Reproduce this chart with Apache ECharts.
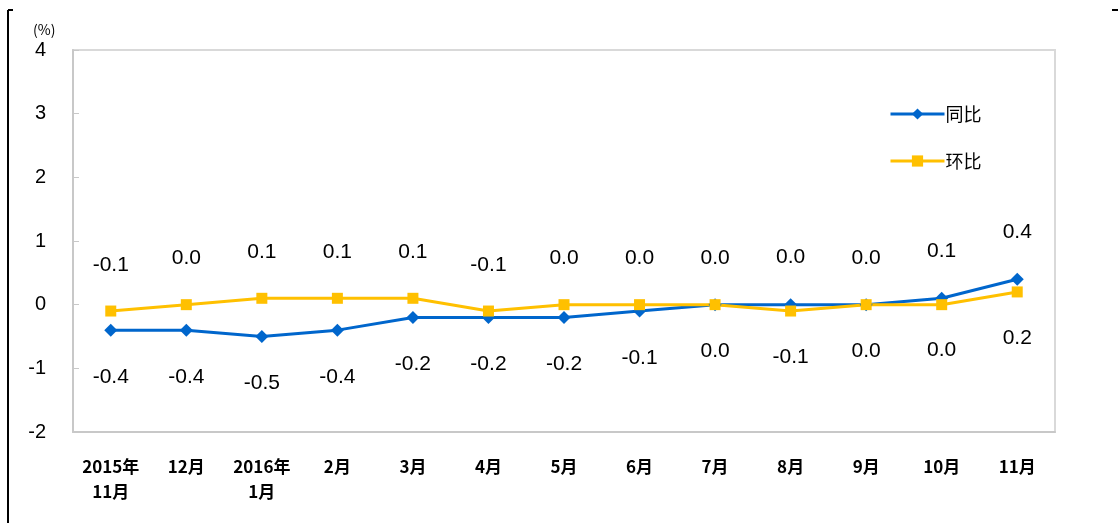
<!DOCTYPE html>
<html>
<head>
<meta charset="utf-8">
<script src="https://cdn.jsdelivr.net/npm/echarts@6/dist/echarts.min.js"></script>
<style>html,body{margin:0;padding:0;background:#fff;}#c{width:1118px;height:523px;}</style>
</head>
<body>
<div id="c"></div>
<script>
var categories = ['2015年\n11月','12月','2016年\n1月','2月','3月','4月','5月','6月','7月','8月','9月','10月','11月'];
var yoy = [-0.4,-0.4,-0.5,-0.4,-0.2,-0.2,-0.2,-0.1,0.0,0.0,0.0,0.1,0.4];
var mom = [-0.1,0.0,0.1,0.1,0.1,-0.1,0.0,0.0,0.0,-0.1,0.0,0.0,0.2];
var yTicks = [-2,-1,0,1,2,3,4];

var chart = echarts.init(document.getElementById('c'));
function items(vals, other, isBlue){
  return vals.map(function(v,i){
    var top = isBlue ? (v > other[i]) : !(other[i] > v);
    return {value:v, label:{position: top ? 'top' : 'bottom'}};
  });
}
var labelStyle = {show:true, fontSize:21, color:'#000', fontFamily:'Liberation Sans, Arial, sans-serif', distance:30,
  formatter:function(p){return p.value.toFixed(1);}};
chart.setOption({
  animation:false,
  title:{text:'(%)', left:28, top:18, textStyle:{fontSize:14, fontWeight:'normal', color:'#000', fontFamily:'Noto Sans CJK SC'}},
  grid:{left:73, right:63, top:50, bottom:91, show:true, borderColor:'#d9d9d9', borderWidth:2},
  legend:{orient:'vertical', left:884, top:100, itemWidth:54, itemHeight:14, itemGap:29,
    lineStyle:{width:3},
    textStyle:{fontSize:18, color:'#000', fontFamily:'Noto Sans CJK SC', padding:[0,0,0,-4]},
    data:['同比','环比']},
  xAxis:{type:'category', data:categories, boundaryGap:true,
    axisLine:{onZero:false, lineStyle:{color:'#c8c8c8', width:2}},
    axisTick:{inside:true, length:6, lineStyle:{color:'#c8c8c8'}},
    axisLabel:{fontSize:17, color:'#000', fontWeight:'bold', fontFamily:'Noto Sans CJK SC', margin:22, lineHeight:25, interval:0}},
  yAxis:{type:'value', min:yTicks[0], max:yTicks[yTicks.length-1], interval:1,
    splitLine:{show:false},
    axisLine:{show:true, lineStyle:{color:'#c8c8c8', width:2}},
    axisTick:{show:true, inside:true, length:6, lineStyle:{color:'#c8c8c8'}},
    axisLabel:{fontSize:20, color:'#000', fontFamily:'Liberation Sans, Arial, sans-serif', margin:27}},
  series:[
    {name:'同比', type:'line', data:items(yoy, mom, true), symbol:'diamond', symbolSize:13,
      lineStyle:{color:'#0066CC', width:3}, itemStyle:{color:'#0066CC'}, label:labelStyle},
    {name:'环比', type:'line', data:items(mom, yoy, false), symbol:'rect', symbolSize:11,
      lineStyle:{color:'#FFC000', width:3}, itemStyle:{color:'#FFC000'}, label:labelStyle}
  ],
  graphic:[
    {type:'line', shape:{x1:8,y1:10,x2:8,y2:523}, style:{stroke:'#000', lineWidth:2}},
    {type:'line', shape:{x1:8,y1:10,x2:13,y2:10}, style:{stroke:'#000', lineWidth:2}},
    {type:'line', shape:{x1:1112,y1:10,x2:1118,y2:10}, style:{stroke:'#000', lineWidth:2}}
  ]
});
</script>
</body>
</html>
